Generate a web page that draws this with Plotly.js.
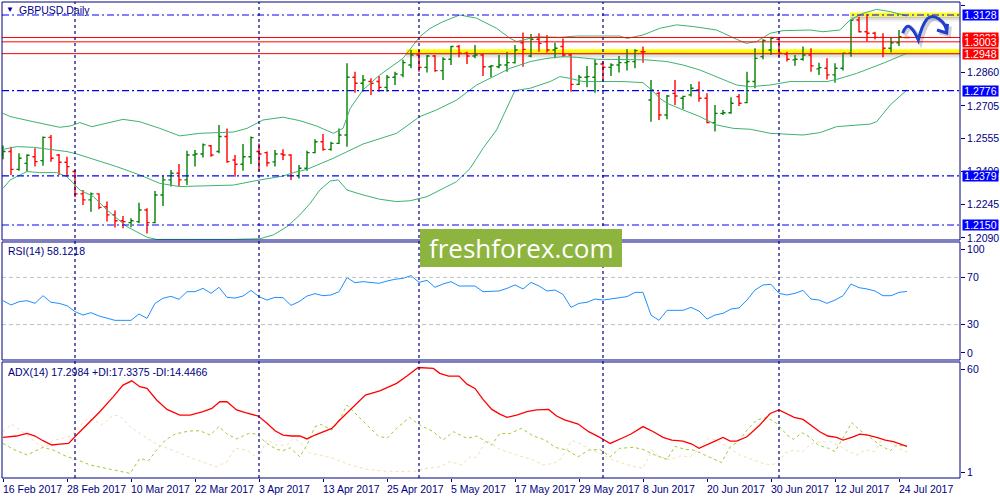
<!DOCTYPE html>
<html>
<head>
<meta charset="utf-8">
<script src="https://cdn.plot.ly/plotly-3.0.1.min.js"></script>
<style>
html, body { margin: 0; padding: 0; background: #fff; }
#chart { width: 1000px; height: 500px; }
</style>
</head>
<body>
<div id="chart"></div>
<script>
// x axis: bar number, labels every 8 bars
var tickIdx = [0, 8, 16, 24, 32, 40, 48, 56, 64, 72, 80, 88, 96, 104, 112];
var tickLabels = ['16 Feb 2017', '28 Feb 2017', '10 Mar 2017', '22 Mar 2017', '3 Apr 2017',
  '13 Apr 2017', '25 Apr 2017', '5 May 2017', '17 May 2017', '29 May 2017', '8 Jun 2017',
  '20 Jun 2017', '30 Jun 2017', '12 Jul 2017', '24 Jul 2017'];
// month separators (bar numbers)
var sepIdx = [9, 32, 52, 75, 97];

// GBPUSD daily bars
var opens = [1.2481,1.2492,1.2409,1.2437,1.2468,1.2450,1.2558,1.2476,1.2442,1.2399,
  1.2295,1.2267,1.2295,1.2235,1.2197,1.2170,1.2161,1.2166,1.2220,1.2161,
  1.2290,1.2360,1.2391,1.2360,1.2476,1.2481,1.2519,1.2492,1.2562,1.2453,
  1.2433,1.2468,1.2492,1.2487,1.2444,1.2481,1.2476,1.2380,1.2414,1.2487,
  1.2538,1.2502,1.2530,1.2569,1.2838,1.2810,1.2818,1.2818,1.2791,1.2838,
  1.2849,1.2895,1.2942,1.2884,1.2937,1.2869,1.2922,1.2981,1.2950,1.2937,
  1.2942,1.2887,1.2887,1.2895,1.2906,1.2999,1.2937,1.3015,1.3004,1.2965,
  1.2981,1.2942,1.2805,1.2838,1.2838,1.2900,1.2884,1.2895,1.2906,1.2911,
  1.2957,1.2732,1.2763,1.2662,1.2763,1.2740,1.2756,1.2779,1.2740,1.2627,
  1.2670,1.2673,1.2748,1.2720,1.2818,1.2934,1.2965,1.3015,1.2946,1.2919,
  1.2922,1.2942,1.2877,1.2880,1.2849,1.2880,1.2950,1.3105,1.3050,1.3043,
  1.3024,1.2973,1.2999,1.3023];
var highs = [1.2520,1.2515,1.2484,1.2479,1.2507,1.2562,1.2569,1.2481,1.2468,1.2406,
  1.2313,1.2301,1.2298,1.2259,1.2217,1.2192,1.2181,1.2254,1.2228,1.2308,
  1.2380,1.2406,1.2434,1.2496,1.2499,1.2530,1.2523,1.2616,1.2600,1.2476,
  1.2527,1.2562,1.2530,1.2492,1.2499,1.2503,1.2480,1.2430,1.2496,1.2549,
  1.2574,1.2538,1.2600,1.2903,1.2864,1.2849,1.2833,1.2844,1.2849,1.2864,
  1.2919,1.2965,1.2965,1.2942,1.2942,1.2931,1.2984,1.2988,1.2957,1.2988,
  1.2946,1.2895,1.2942,1.2957,1.2988,1.3047,1.3040,1.3043,1.3035,1.2999,
  1.3019,1.2950,1.2849,1.2891,1.2922,1.2911,1.2903,1.2937,1.2968,1.2968,
  1.2981,1.2825,1.2771,1.2756,1.2825,1.2752,1.2807,1.2818,1.2763,1.2709,
  1.2686,1.2745,1.2760,1.2864,1.2973,1.3015,1.3027,1.3019,1.2957,1.2942,
  1.2981,1.2973,1.2906,1.2926,1.2903,1.2953,1.3108,1.3120,1.3133,1.3050,
  1.3043,1.3024,1.3058,1.3027];
var lows = [1.2456,1.2383,1.2403,1.2399,1.2422,1.2426,1.2445,1.2383,1.2375,1.2279,
  1.2243,1.2212,1.2223,1.2166,1.2138,1.2135,1.2139,1.2158,1.2111,1.2158,
  1.2239,1.2329,1.2332,1.2336,1.2422,1.2464,1.2468,1.2484,1.2440,1.2375,
  1.2403,1.2434,1.2399,1.2422,1.2422,1.2453,1.2360,1.2367,1.2403,1.2484,
  1.2496,1.2496,1.2527,1.2515,1.2766,1.2771,1.2756,1.2771,1.2771,1.2802,
  1.2838,1.2880,1.2864,1.2860,1.2864,1.2825,1.2895,1.2931,1.2900,1.2926,
  1.2844,1.2838,1.2880,1.2864,1.2902,1.2887,1.2931,1.2957,1.2953,1.2926,
  1.2931,1.2771,1.2802,1.2791,1.2766,1.2818,1.2844,1.2860,1.2869,1.2880,
  1.2906,1.2631,1.2639,1.2642,1.2709,1.2689,1.2748,1.2724,1.2624,1.2585,
  1.2662,1.2668,1.2704,1.2717,1.2787,1.2922,1.2942,1.2934,1.2911,1.2892,
  1.2915,1.2864,1.2849,1.2828,1.2813,1.2869,1.2934,1.3046,1.3004,1.3015,
  1.2931,1.2953,1.2984,1.3020];
var closes = [1.2492,1.2409,1.2461,1.2475,1.2445,1.2558,1.2461,1.2442,1.2422,1.2295,
  1.2267,1.2295,1.2232,1.2197,1.2170,1.2166,1.2170,1.2220,1.2161,1.2290,
  1.2360,1.2391,1.2360,1.2476,1.2481,1.2523,1.2476,1.2562,1.2445,1.2433,
  1.2468,1.2557,1.2481,1.2440,1.2481,1.2476,1.2380,1.2414,1.2487,1.2538,
  1.2502,1.2530,1.2569,1.2838,1.2810,1.2825,1.2810,1.2791,1.2838,1.2853,
  1.2906,1.2942,1.2884,1.2937,1.2869,1.2922,1.2981,1.2950,1.2937,1.2942,
  1.2887,1.2891,1.2895,1.2906,1.2965,1.2968,1.3015,1.2996,1.2965,1.2973,
  1.2942,1.2805,1.2838,1.2841,1.2900,1.2884,1.2895,1.2906,1.2911,1.2962,
  1.2957,1.2779,1.2662,1.2751,1.2751,1.2749,1.2787,1.2740,1.2627,1.2670,
  1.2673,1.2717,1.2717,1.2818,1.2926,1.3009,1.3019,1.2950,1.2922,1.2922,
  1.2942,1.2891,1.2883,1.2849,1.2880,1.2950,1.3105,1.3050,1.3043,1.3024,
  1.2973,1.2999,1.3027,1.3023];

// Bollinger bands (bar position, price)
var bbUpX = [0,0.9,3.8,5.9,7.1,8.4,9.6,11.1,13,15,17.1,19.6,22.1,24.6,28.8,30.5,32.5,35,37.1,39.2,
  41.3,42.5,43.4,45,47.1,50,52.1,53.4,55,57.1,59.2,61.7,63.4,64.2,66.7,69.6,71.7,77.1,78,80,
  82.1,84.2,86.3,89.2,91.7,92.9,94.2,95.9,97.5,100.9,102.5,104.6,105.9,107.5,109.2,110.9,112.5,113];
var bbUp = [1.2670,1.2655,1.2631,1.2616,1.2605,1.2611,1.2627,1.2608,1.2624,1.2642,
  1.2631,1.2600,1.2565,1.2577,1.2583,1.2600,1.2639,1.2652,1.2636,1.2611,
  1.2577,1.2600,1.2693,1.2779,1.2849,1.2926,1.3027,1.3066,1.3097,1.3128,
  1.3113,1.3066,1.3019,1.3004,1.3027,1.3024,1.3030,1.3030,1.3019,1.3035,
  1.3066,1.3082,1.3074,1.3058,1.3015,1.2996,1.3004,1.3043,1.3055,1.3058,
  1.3050,1.3058,1.3105,1.3136,1.3154,1.3144,1.3128,1.3123];
var bbMidX = [0,1.7,3.8,5.9,8,9.2,11.3,14.2,17.1,19.6,22.1,24.6,28.8,32.1,35,36.3,38,41.3,43,45,
  49.2,52.1,54.2,56.7,59.2,61.7,63.4,65.9,68,70,71.7,74.2,78.4,80.5,83,85,87.1,89.2,91.7,93.4,
  95.9,98.4,103,104.2,106.7,110,111.7,113];
var bbMid = [1.2502,1.2515,1.2512,1.2502,1.2492,1.2481,1.2456,1.2422,1.2383,1.2344,
  1.2329,1.2332,1.2336,1.2360,1.2378,1.2394,1.2409,1.2461,1.2492,1.2527,
  1.2577,1.2655,1.2686,1.2732,1.2802,1.2849,1.2880,1.2911,1.2926,1.2934,
  1.2931,1.2922,1.2922,1.2919,1.2911,1.2895,1.2872,1.2841,1.2802,1.2794,
  1.2802,1.2818,1.2818,1.2828,1.2856,1.2903,1.2931,1.2950];
var bbLowX = [0,0.9,3,4.6,6.7,8,9.6,11.3,13,15.5,18,19.2,28.8,32.1,33.8,35.5,37.1,38.4,39.6,40.9,
  41.9,43,45,47.1,49.2,50.9,53,55,56.7,58.4,60,61.7,62.9,64,65.9,68.4,69.6,70.9,72.5,77.5,
  80,81.3,82.1,83,85,87.1,89.2,91.3,93.4,95.9,100,102.1,104.2,108.4,109.2,110.9,113];
var bbLow = [1.2321,1.2360,1.2399,1.2394,1.2394,1.2375,1.2313,1.2282,1.2220,1.2142,
  1.2093,1.2083,1.2083,1.2086,1.2104,1.2142,1.2197,1.2251,1.2313,1.2355,
  1.2360,1.2313,1.2290,1.2270,1.2259,1.2263,1.2282,1.2321,1.2352,1.2414,
  1.2507,1.2593,1.2686,1.2776,1.2787,1.2818,1.2841,1.2833,1.2818,1.2818,
  1.2813,1.2771,1.2740,1.2717,1.2686,1.2655,1.2616,1.2600,1.2596,1.2577,
  1.2569,1.2580,1.2608,1.2620,1.2631,1.2709,1.2779];

// RSI(14), one value per bar
var rsi = [50.3,46.6,49.4,50.3,48.0,54.5,48.9,48.0,46.0,41.0,
  38.1,40.1,37.3,35.3,33.6,33.6,33.6,39.0,35.3,48.0,
  52.3,54.0,51.4,57.9,57.9,60.7,56.5,61.6,53.1,52.5,
  54.2,59.0,53.7,50.8,53.1,52.8,46.3,49.4,54.2,56.2,
  54.5,55.1,57.9,69.8,65.5,66.4,65.8,65.0,66.9,68.4,
  69.2,71.5,65.8,67.5,61.6,64.4,66.4,62.7,62.7,62.7,
  57.9,58.5,58.5,60.7,63.6,60.2,65.8,62.7,58.5,59.3,
  55.6,44.6,48.0,48.9,51.7,50.8,51.7,52.3,53.7,57.3,
  57.3,38.1,33.6,42.1,42.1,42.1,44.6,41.5,34.7,38.1,
  39.5,43.2,44.1,50.8,59.3,63.6,64.1,56.5,55.1,56.5,
  59.0,51.7,50.8,48.0,50.8,54.5,64.4,61.3,60.2,58.5,
  54.5,54.5,57.3,58.1];

// ADX(14) with +DI / -DI
var adxX = [0,1.7,3,4,5,6.1,7.1,8.2,9.2,10.5,12.1,13.8,15,16.1,17.1,18,19.2,20.5,22.1,23.4,
  25,26.1,27.1,28,29.2,30.3,31.9,33,34,35,36.1,37.1,38,39,40,41.1,42.1,43.2,44.2,45.3,
  47.1,49.2,50.5,51.9,53.8,54.6,55.7,57,58,59,60,61.1,62.1,63,64.2,65.5,66.7,68.2,69.2,70.2,
  71.9,73.2,74.6,75.9,77.5,78.5,80,81.3,82.5,83.6,85,86.1,87,88,89,90,90.9,91.7,93,94.6,
  95.9,97,98,98.9,100,101,102.1,103.1,104.2,105,106.1,107.1,108.1,109.2,110.3,111.3,112.1,113];
var adx = [21.9,22.6,23.9,22.6,20.2,18.0,18.5,18.8,23.1,28.2,35.0,42.7,48.6,50.8,47.8,46.9,41.0,36.2,33.3,33.3,
  35.0,36.7,40.1,40.1,35.9,34.5,32.8,29.1,25.3,23.1,22.6,22.6,21.1,23.1,24.8,26.5,30.8,35.0,39.3,43.5,
  45.7,49.5,53.2,57.6,57.1,54.6,53.2,53.2,49.1,46.9,41.3,36.2,33.8,32.1,33.3,35.0,35.9,36.2,32.8,30.8,
  28.7,24.8,21.9,18.8,21.7,23.6,27.4,24.8,21.9,20.5,20.0,18.5,16.3,18.0,20.0,21.9,20.0,20.0,22.2,28.2,
  34.1,35.9,34.1,32.1,31.1,28.2,24.8,22.6,21.9,20.5,21.9,23.6,23.1,21.9,20.5,19.7,18.5,17.3];
var pdiX = [0,1.3,3,4.2,5,6.3,8,9.2,10.9,12.5,13.8,15.9,16.3,17.1,18.2,19.2,20.3,21.5,23.2,24.6,
  25.9,27,28,29.2,30.7,31.7,33,34.2,35,35.9,37.1,38,39,39.8,41.1,42.1,43,44.2,45.5,46.9,
  48,49.2,50.8,52.1,53.8,55,56.3,58,59.2,61.1,62.1,63.4,64.8,66.3,67.8,69,70.5,71.9,73.2,74.6,
  75.9,77.1,78.8,80,81.5,83,84,85.2,86.3,87.1,88.6,89.8,90.9,91.9,93,94.2,95.5,96.7,98,98.8,
  99.9,100.9,101.9,103.2,104,105,106.1,107.1,108.4,109.6,110.9,111.7,113];
var pdi = [18.8,15.8,12.9,15.1,16.8,15.4,12.0,10.6,7.8,6.4,5.2,3.5,6.1,11.2,10.0,15.4,20.5,23.6,25.1,25.3,
  23.1,27.4,23.6,21.1,23.9,23.6,18.8,15.8,15.1,16.6,12.0,18.0,27.4,28.5,25.6,31.1,38.4,33.3,28.2,22.6,
  21.4,26.5,32.1,28.2,24.8,20.5,24.8,21.4,22.6,18.0,23.9,23.9,26.5,22.6,20.5,16.8,15.4,12.0,15.4,15.8,
  12.0,16.3,16.8,15.8,12.9,10.6,17.3,15.8,15.4,14.1,11.2,9.0,17.1,19.7,25.6,30.8,32.1,29.1,23.1,20.9,
  24.3,21.9,18.0,16.3,14.6,21.4,29.4,25.6,21.9,18.0,15.1,18.0,17.3];
var mdiX = [0,1.1,2.1,3.4,4.2,5.3,6.3,7.5,8.4,9,10.3,11.3,12.3,13.8,14.6,15.9,17.1,19.2,21.7,24.2,
  26.7,28,29,30.5,31.9,33,34.2,35.5,36.3,37.1,38.4,39.6,41.3,43.4,45.5,47.5,49.6,51.7,53,54.6,
  55.9,57.3,58.4,59.2,60.4,62.1,64.2,66.3,67.5,68.8,69.8,71.1,72.1,73.4,74.6,76.1,77.5,78.6,80,81.1,
  82.1,83.4,84.6,85.9,87.1,88.2,89.2,90.7,92.1,93.8,95,96.1,97,97.8,98.8,99.9,101.1,102.1,103.4,104.6,
  105.4,106.7,107.8,109,109.8,110.9,111.9,113];
var mdi = [24.8,28.7,25.6,21.9,18.8,16.8,20.5,21.4,22.6,24.8,30.8,31.1,28.2,33.3,32.8,27.4,23.9,18.5,14.6,10.3,
  6.9,9.5,16.3,15.4,11.2,20.5,18.0,18.0,21.4,19.7,13.7,12.9,11.2,7.8,5.6,4.7,4.4,4.7,6.1,6.9,
  9.5,7.8,12.0,11.7,20.5,15.8,12.9,10.3,7.8,8.6,11.2,20.2,18.8,15.8,13.7,10.6,8.6,7.3,6.1,15.4,
  12.0,10.6,12.4,12.0,16.3,21.4,20.5,16.8,12.9,10.3,8.6,7.8,9.5,14.1,15.4,14.6,18.8,19.7,19.7,17.5,
  15.4,12.9,15.4,14.6,20.5,19.7,16.3,14.4];

// price levels
var blueLevels = [1.3128, 1.2776, 1.2379, 1.2150];
var redLevels = [1.3023, 1.3003, 1.2948];
var priceTicks = [1.3170, 1.2860, 1.2705, 1.2555, 1.2400, 1.2245, 1.2090];

var idx = opens.map(function (v, i) { return i; });
var NAVY = '#000080';

var traces = [
  {
    type: 'ohlc', x: idx, open: opens, high: highs, low: lows, close: closes,
    xaxis: 'x', yaxis: 'y', tickwidth: 0.32, hoverinfo: 'skip',
    increasing: { line: { color: '#008000', width: 1.4 } },
    decreasing: { line: { color: '#ff0000', width: 1.4 } }
  },
  { type: 'scatter', mode: 'lines', x: bbUpX, y: bbUp, yaxis: 'y', line: { color: '#3cb371', width: 1 }, hoverinfo: 'skip' },
  { type: 'scatter', mode: 'lines', x: bbMidX, y: bbMid, yaxis: 'y', line: { color: '#3cb371', width: 1 }, hoverinfo: 'skip' },
  { type: 'scatter', mode: 'lines', x: bbLowX, y: bbLow, yaxis: 'y', line: { color: '#3cb371', width: 1 }, hoverinfo: 'skip' },
  { type: 'scatter', mode: 'lines', x: idx, y: rsi, yaxis: 'y2', line: { color: '#1e90ff', width: 1 }, hoverinfo: 'skip' },
  { type: 'scatter', mode: 'lines', x: pdiX, y: pdi, yaxis: 'y3', line: { color: '#9acd32', width: 1, dash: '3px,3px' }, hoverinfo: 'skip' },
  { type: 'scatter', mode: 'lines', x: mdiX, y: mdi, yaxis: 'y3', line: { color: '#f5deb3', width: 1, dash: '3px,3px' }, hoverinfo: 'skip' },
  { type: 'scatter', mode: 'lines', x: adxX, y: adx, yaxis: 'y3', line: { color: '#ff0000', width: 1.3 }, hoverinfo: 'skip' }
];

var shapes = [];
var annotations = [];

// yellow marker strips with soft shadow
var hlFrom = [50.4, 105.9];
var hlLow = [1.2950, 1.3121];
var hlHigh = [1.2968, 1.3139];
hlFrom.forEach(function (x0, k) {
  var sh = [0.22, 0.12, 0.05];
  for (var s = 0; s < 3; s++) {
    shapes.push({ type: 'rect', xref: 'x', yref: 'y', x0: x0, x1: 119.7,
      y0: hlLow[k] - 0.0008 * (s + 1), y1: hlLow[k] - 0.0008 * s,
      fillcolor: 'rgba(0,0,0,' + sh[s] + ')', line: { width: 0 }, layer: 'below' });
  }
  shapes.push({ type: 'rect', xref: 'x', yref: 'y', x0: x0, x1: 119.7, y0: hlLow[k], y1: hlHigh[k],
    fillcolor: '#ffff00', line: { width: 0 }, layer: 'below' });
});

blueLevels.forEach(function (v) {
  shapes.push({ type: 'line', xref: 'paper', yref: 'y', x0: 0, x1: 1, y0: v, y1: v,
    line: { color: '#0000ff', width: 1.2, dash: '7px,3px,2px,3px' } });
});
redLevels.forEach(function (v) {
  shapes.push({ type: 'line', xref: 'paper', yref: 'y', x0: 0, x1: 1, y0: v, y1: v,
    line: { color: '#ff0000', width: 1 } });
});
[70, 30].forEach(function (v) {
  shapes.push({ type: 'line', xref: 'paper', yref: 'y2', x0: 0, x1: 1, y0: v, y1: v,
    line: { color: '#c0c0c0', width: 1, dash: '4px,3px' } });
});
sepIdx.forEach(function (v) {
  shapes.push({ type: 'line', xref: 'x', yref: 'paper', x0: v, x1: v, y0: 0, y1: 1,
    line: { color: NAVY, width: 1.2, dash: '3px,3px' } });
});
// panel frames
['y', 'y2', 'y3'].forEach(function (ax) {
  shapes.push({ type: 'rect', xref: 'paper', yref: ax + ' domain', x0: 0, x1: 1, y0: 0, y1: 1,
    line: { color: NAVY, width: 1 }, fillcolor: 'rgba(0,0,0,0)' });
});

// hand drawn forecast arrow
var arrowPts = [
  ['M', 112.46, 1.30428], ['Q', 112.875, 1.30861], ['', 113.375, 1.30721],
  ['Q', 113.875, 1.30581], ['', 114.41, 1.30116], ['Q', 114.875, 1.30814], ['', 115.5, 1.31094],
  ['Q', 116.125, 1.31327], ['', 117.0, 1.31094], ['Q', 117.875, 1.30861], ['', 117.96, 1.30488],
  ['M', 116.75, 1.30581], ['L', 117.96, 1.30442], ['L', 118.06, 1.30861]
];
function arrowPath(dx, dy) {
  return arrowPts.map(function (p) { return p[0] + (p[1] + dx) + ',' + (p[2] + dy); }).join(' ');
}
shapes.push({ type: 'path', xref: 'x', yref: 'y', path: arrowPath(0.3, -0.0011),
  line: { color: 'rgba(0,0,0,0.18)', width: 4 } });
shapes.push({ type: 'path', xref: 'x', yref: 'y', path: arrowPath(0, 0),
  line: { color: '#1f3fd0', width: 3 } });

// watermark
shapes.push({ type: 'rect', xref: 'paper', yref: 'paper', x0: 0.4363, x1: 0.6472, y0: 0.4433, y1: 0.5231,
  fillcolor: '#8cb43f', line: { width: 0 } });
annotations.push({ xref: 'paper', yref: 'paper', x: 0.5418, y: 0.4832, text: 'freshforex.com',
  showarrow: false, font: { family: 'Open Sans', size: 26, color: '#ffffff' } });

// boxed price labels on the axis
var boxVals = [1.3128, 1.2776, 1.2379, 1.2150, 1.3023, 1.3003, 1.2948];
var boxCols = ['#0000ff', '#0000ff', '#0000ff', '#0000ff', '#ff0000', '#ff0000', '#ff0000'];
boxVals.forEach(function (v, k) {
  annotations.push({ xref: 'paper', yref: 'y', x: 1, y: v, xanchor: 'left', yanchor: 'middle', xshift: 2,
    text: v.toFixed(4), showarrow: false, bgcolor: boxCols[k], borderpad: 0, width: 35, height: 10,
    font: { family: 'Liberation Sans', size: 10.5, color: '#ffffff' } });
});

// date labels, left aligned to their bar
tickIdx.forEach(function (v, k) {
  annotations.push({ xref: 'x', yref: 'paper', x: v, y: 0, xanchor: 'left', yanchor: 'top', yshift: -3, xshift: -2,
    text: tickLabels[k], showarrow: false, font: { family: 'Liberation Sans', size: 10.5, color: NAVY } });
});

annotations.push({ xref: 'paper', yref: 'paper', x: 0.0025, y: 0.9832, xanchor: 'left', yanchor: 'middle',
  text: '▼', showarrow: false, font: { size: 8, color: NAVY } });
annotations.push({ xref: 'paper', yref: 'paper', x: 0.0155, y: 0.9832, xanchor: 'left', yanchor: 'middle',
  text: 'GBPUSD,Daily', showarrow: false, font: { family: 'Liberation Sans', size: 10.5, color: NAVY } });
annotations.push({ xref: 'paper', yref: 'paper', x: 0.004, y: 0.4769, xanchor: 'left', yanchor: 'middle',
  text: 'RSI(14) 58.1218', showarrow: false, font: { family: 'Liberation Sans', size: 10.5, color: NAVY } });
annotations.push({ xref: 'paper', yref: 'paper', x: 0.004, y: 0.2233, xanchor: 'left', yanchor: 'middle',
  text: 'ADX(14) 17.2984 +DI:17.3375 -DI:14.4466', showarrow: false,
  font: { family: 'Liberation Sans', size: 10.5, color: NAVY } });

var yCommon = {
  side: 'right', showgrid: false, zeroline: false, ticks: 'outside', ticklen: 4,
  tickcolor: NAVY, showline: false, fixedrange: true,
  tickfont: { family: 'Liberation Sans', size: 10.5, color: NAVY }
};

var layout = {
  width: 1000, height: 500,
  margin: { l: 2, r: 40, t: 2, b: 22 },
  paper_bgcolor: '#ffffff', plot_bgcolor: '#ffffff',
  showlegend: false,
  font: { family: 'Liberation Sans', size: 10.5, color: NAVY },
  xaxis: {
    range: [-0.125, 119.625], anchor: 'y3', tickvals: tickIdx, ticktext: tickLabels,
    showticklabels: false, ticks: 'outside', ticklen: 3, tickcolor: NAVY,
    showgrid: false, zeroline: false, rangeslider: { visible: false }, fixedrange: true
  },
  yaxis: Object.assign({}, yCommon, {
    domain: [0.5, 1], range: [1.20802, 1.31885],
    tickvals: priceTicks, ticktext: priceTicks.map(function (v) { return v.toFixed(4); })
  }),
  yaxis2: Object.assign({}, yCommon, {
    domain: [0.2479, 0.4958], range: [0, 100],
    tickvals: [93.5, 70, 30, 6], ticktext: ['100', '70', '30', '0']
  }),
  yaxis3: Object.assign({}, yCommon, {
    domain: [0, 0.2437], range: [1.15, 60.4],
    tickvals: [56.6, 3.9], ticktext: ['60', '1']
  }),
  shapes: shapes,
  annotations: annotations
};

Plotly.newPlot('chart', traces, layout, { staticPlot: true, displayModeBar: false });
</script>
</body>
</html>
